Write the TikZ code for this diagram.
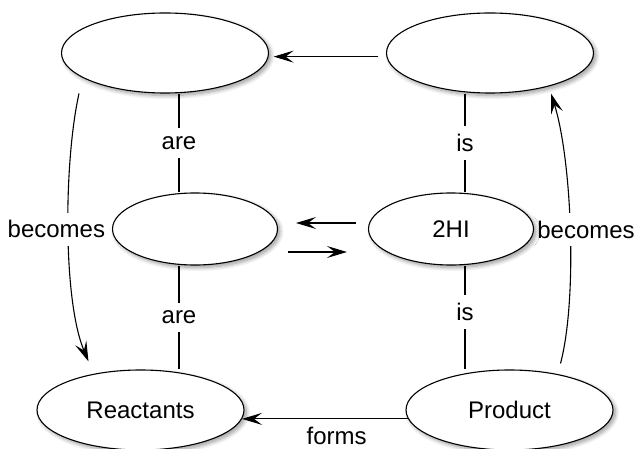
\documentclass[tikz,border=0pt]{standalone}
\usepackage{fontspec}
\setmainfont{Liberation Sans}
\usetikzlibrary{positioning,shapes,shadows,shadows.blur,arrows.meta}
\tikzstyle{concept} = [draw, line width=1.1pt, ellipse, fill=white, inner sep=0pt, minimum width=207pt, minimum height=80pt, blur shadow={shadow xshift=2.5pt, shadow yshift=-2.5pt, shadow opacity=40, shadow blur radius=4pt, shadow blur steps=8}]
\tikzstyle{small concept} = [concept, minimum width=165pt, minimum height=72pt]
\tikzstyle{line} = [draw, line width=1.1pt, -{Stealth[length=20pt, width=12pt, inset=8pt]}]
\tikzstyle{link} = [draw, line width=1.1pt]
\tikzstyle{verb} = [fill=white, inner xsep=3pt, inner ysep=8pt]
\pgfdeclarelayer{background}
\pgfsetlayers{background,main}

\begin{document}
\begin{tikzpicture}[node distance = 325pt, font=\fontsize{24}{28}\selectfont]
    \useasboundingbox (0,0) rectangle (642pt,-449pt);

    % Place nodes
    \node [concept] (reactant-kind) at (165pt,-53pt) {};
    \node [concept, right of=reactant-kind] (product-kind) {};
    \node [small concept, below of=reactant-kind, node distance=176pt, xshift=30pt] (h2-i2) {};
    \node [small concept, right of=h2-i2, node distance=256pt] (hi) {2HI};
    \node [concept, below of=reactant-kind, node distance=357pt, xshift=-24.5pt] (reactants) {Reactants};
    \node [concept, right of=reactants, node distance=369pt] (product) {Product};

    % Draw edges behind the ellipses
    \begin{pgfonlayer}{background}
      \path [line, shorten <=8pt, shorten >=5pt] (product-kind.182) -- (reactant-kind.-2);
      \path [line, shorten <=12pt, shorten >=18pt] ([yshift=6pt]hi.west) -- ([yshift=6pt]hi.west -| h2-i2.east);
      \path [line, shorten <=10pt, shorten >=21pt] ([yshift=-23pt]h2-i2.east) -- ([yshift=-23pt]h2-i2.east -| hi.west);
      \path [link] ([xshift=14pt]reactant-kind.south) -- node[verb] {are} ([xshift=14pt]reactant-kind.south |- h2-i2.north);
      \path [link] ([xshift=-16pt]h2-i2.south) -- node[verb] {are} ([xshift=-16pt]h2-i2.south |- reactants.north);
      \path [link] ([xshift=-25pt]product-kind.south) -- node[verb] {is} ([xshift=-25pt]product-kind.south |- hi.north);
      \path [link] ([xshift=14pt]hi.south) -- node[verb, pos=0.45] {is} ([xshift=14pt]hi.south |- product.north);
      \path [line] ([xshift=-86pt]reactant-kind.south) .. controls +(-15pt,-67pt) and +(-26pt,62pt) .. ([xshift=-52pt,yshift=8pt]reactants.north) node[pos=0.5, verb, xshift=-12pt] {becomes};
      \path [line] ([xshift=51pt,yshift=6pt]product.north) .. controls +(17pt,64pt) and +(21pt,-67pt) .. ([xshift=61pt]product-kind.south) node[pos=0.5, verb, xshift=16pt] {becomes};
      \path [line] (product.185) -- node[below, pos=0.43, yshift=-4pt] {forms} (reactants.-5);
    \end{pgfonlayer}
\end{tikzpicture}
\end{document}
